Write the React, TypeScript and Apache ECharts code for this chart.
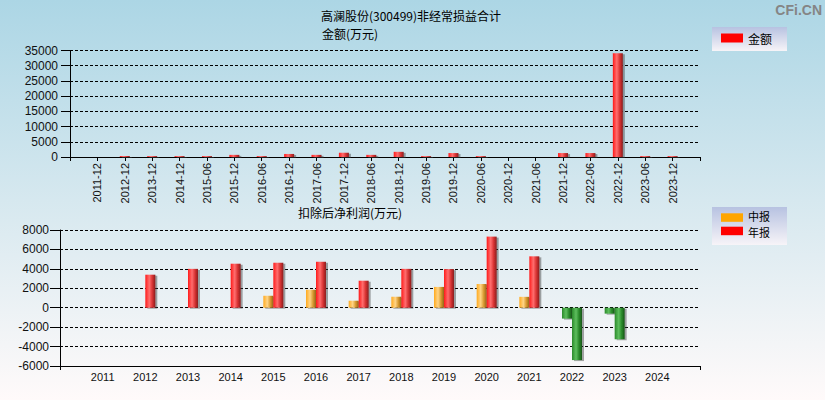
import React, { useEffect, useRef } from "react";
import * as echarts from "echarts";

const topCategories = [
  "2011-12", "2012-12", "2013-12", "2014-12", "2015-06", "2015-12", "2016-06", "2016-12",
  "2017-06", "2017-12", "2018-06", "2018-12", "2019-06", "2019-12", "2020-06", "2020-12",
  "2021-06", "2021-12", "2022-06", "2022-12", "2023-06", "2023-12",
];
const amountValues: (number | null)[] = [
  null, 300, 300, 300, 300, 700, 300, 1000, 700, 1400, 700, 1700, 300, 1300, 300, null,
  null, 1300, 1300, 34100, 300, 300,
];

const years = ["2011", "2012", "2013", "2014", "2015", "2016", "2017", "2018", "2019", "2020", "2021", "2022", "2023", "2024"];
const interimValues: (number | null)[] = [null, null, null, null, 1230, 1850, 720, 1130, 2140, 2440, 1120, -1120, -610, null];
const annualValues: (number | null)[] = [null, 3400, 4000, 4530, 4630, 4730, 2780, 4000, 3970, 7320, 5290, -5390, -3250, null];

const titleMain = "高澜股份(300499)非经常损益合计";
const titleTop = "金额(万元)";
const titleBottom = "扣除后净利润(万元)";

function pad<T>(arr: T[], empty: T): T[] {
  return [empty, ...arr, empty];
}

const FONT = '"Liberation Sans", Arial, "Noto Sans CJK SC", sans-serif';
const CJK = '"Noto Sans CJK SC", "Liberation Sans", sans-serif';

function grad(stops: string[]) {
  return new echarts.graphic.LinearGradient(0, 0, 1, 0, [
    { offset: 0, color: stops[0] },
    { offset: 0.4, color: stops[1] },
    { offset: 0.7, color: stops[2] },
    { offset: 1, color: stops[3] },
  ]);
}

const redStops = ["#ff1a1a", "#ff6e6e", "#d83232", "#8a1e1e"];
const orangeStops = ["#ffaa1e", "#ffd486", "#d89a30", "#946418"];
const greenStops = ["#2a8a2a", "#5ebe5e", "#2a8a2a", "#175417"];

const shadow = {
  shadowColor: "rgba(60,60,60,0.45)",
  shadowOffsetX: 2,
  shadowOffsetY: 1,
  shadowBlur: 0,
};

function toItems(vals: (number | null)[], stops: string[]) {
  return vals.map((v) =>
    v === null
      ? null
      : {
          value: v,
          itemStyle: { color: grad(v < 0 ? greenStops : stops), ...shadow },
        }
  );
}

const plain = (v: number) => String(v);

export default function App() {
  const ref = useRef<HTMLDivElement>(null);

  useEffect(() => {
    if (!ref.current) return;
    const chart = echarts.init(ref.current, undefined, { renderer: "svg" });

    const dashed = { show: true, lineStyle: { color: "#000", type: [3, 2] as any, width: 1 } };
    const axisLine = { show: true, onZero: false, lineStyle: { color: "#000", width: 1 } };

    const topData = pad(topCategories, "");
    const bottomData = pad(years, "");
    const lastBottom = bottomData.length - 1;

    const mkBg = () =>
      new echarts.graphic.LinearGradient(0, 0, 0, 1, [
        { offset: 0, color: "#b7c2e1" },
        { offset: 1, color: "#f7f4f8" },
      ]);

    const txt = (text: string, x: number, y: number, size: number, align = "left") => ({
      type: "text",
      x,
      y,
      style: {
        text,
        fontSize: size,
        lineHeight: size + 1,
        fontFamily: CJK,
        fill: "#000",
        align,
        verticalAlign: "middle",
      },
    });

    chart.setOption({
      animation: false,
      backgroundColor: "transparent",
      grid: [
        { left: 70, right: 125, top: 50.5, height: 106.5 },
        { left: 60, right: 125, top: 230, height: 136 },
      ],
      xAxis: [
        {
          type: "category",
          gridIndex: 0,
          data: topData,
          boundaryGap: false,
          axisLine,
          axisTick: { show: true, length: 4, interval: 0, lineStyle: { color: "#000" } },
          axisLabel: {
            interval: 0,
            rotate: 90,
            margin: 6,
            fontSize: 11,
            fontFamily: FONT,
            color: "#111",
          },
          splitLine: { show: false },
        },
        {
          type: "category",
          gridIndex: 1,
          data: bottomData,
          boundaryGap: false,
          axisLine,
          axisTick: {
            show: true,
            length: 4,
            interval: (i: number) => i === 0 || i === lastBottom,
            lineStyle: { color: "#000" },
          },
          axisLabel: { interval: 0, margin: 5, fontSize: 11, fontFamily: FONT, color: "#111" },
          splitLine: { show: false },
        },
      ],
      yAxis: [
        {
          type: "value",
          gridIndex: 0,
          min: 0,
          max: 35000,
          interval: 5000,
          axisLine: { show: true, lineStyle: { color: "#000" } },
          axisTick: { show: true, length: 9, lineStyle: { color: "#000" } },
          axisLabel: { margin: 12, fontSize: 12, fontFamily: FONT, color: "#111", formatter: plain },
          splitLine: dashed,
        },
        {
          type: "value",
          gridIndex: 1,
          min: -6000,
          max: 8000,
          interval: 2000,
          axisLine: { show: true, lineStyle: { color: "#000" } },
          axisTick: { show: true, length: 10, lineStyle: { color: "#000" } },
          axisLabel: { margin: 11, fontSize: 12, fontFamily: FONT, color: "#111", formatter: plain },
          splitLine: dashed,
        },
      ],
      series: [
        {
          name: "金额",
          type: "bar",
          xAxisIndex: 0,
          yAxisIndex: 0,
          barWidth: 10,
          data: pad(toItems(amountValues, redStops), null),
        },
        {
          name: "中报",
          type: "bar",
          xAxisIndex: 1,
          yAxisIndex: 1,
          barWidth: 10,
          barGap: "0%",
          data: pad(toItems(interimValues, orangeStops), null),
        },
        {
          name: "年报",
          type: "bar",
          xAxisIndex: 1,
          yAxisIndex: 1,
          barWidth: 10,
          barGap: "0%",
          data: pad(toItems(annualValues, redStops), null),
        },
      ],
      graphic: [
        txt(titleMain, 411, 15.8, 12, "center"),
        txt(titleTop, 322, 33.3, 12),
        txt(titleBottom, 298, 212.5, 12),
        {
          type: "text",
          x: 822,
          y: 10,
          style: {
            text: "CFi.CN",
            fontSize: 14,
            fontWeight: "bold",
            fontFamily: FONT,
            fill: "#858585",
            align: "right",
            verticalAlign: "middle",
          },
        },
        { type: "rect", shape: { x: 712, y: 27, width: 75, height: 24 }, style: { fill: mkBg() } },
        { type: "rect", shape: { x: 721, y: 33.5, width: 22, height: 9 }, style: { fill: "#ff0000" } },
        txt("金额", 748, 38, 12),
        { type: "rect", shape: { x: 712, y: 207, width: 75, height: 38 }, style: { fill: mkBg() } },
        { type: "rect", shape: { x: 721, y: 213.3, width: 22, height: 8.5 }, style: { fill: "#ffa500" } },
        txt("中报", 748, 216.2, 11),
        { type: "rect", shape: { x: 721, y: 226.7, width: 22, height: 8.5 }, style: { fill: "#ff0000" } },
        txt("年报", 748, 232.2, 11),
      ],
    });

    return () => {
      chart.dispose();
    };
  }, []);

  return (
    <div
      ref={ref}
      style={{
        position: "fixed",
        left: 0,
        top: 0,
        width: 825,
        height: 400,
        background: "linear-gradient(to bottom, #acd6e5 0%, #d6e8ef 50%, #fffafa 100%)",
      }}
    />
  );
}
